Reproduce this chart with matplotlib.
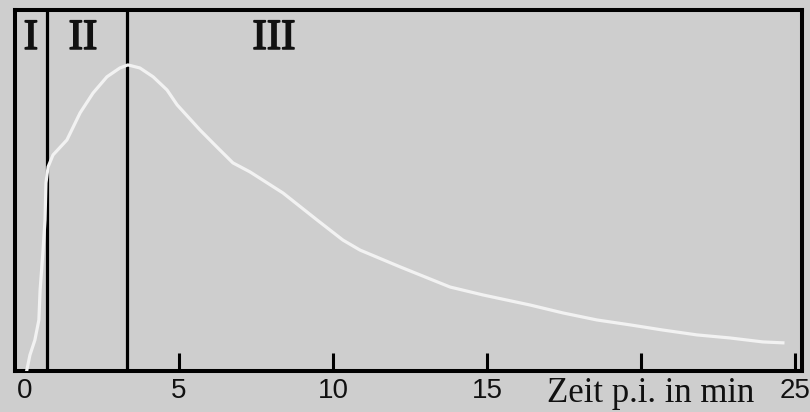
import matplotlib
matplotlib.use("Agg")
import matplotlib.pyplot as plt
import matplotlib.transforms as mtransforms
import matplotlib.patheffects as pe

# Data (time in min, relative signal)
time_min = [0.06, 0.16, 0.32, 0.45, 0.49, 0.58, 0.65, 0.68, 0.75, 0.91, 1.36, 1.79,
            2.21, 2.66, 3.08, 3.34, 3.73, 4.16, 4.61, 4.94, 5.68, 6.23, 6.75, 7.31,
            8.38, 9.48, 10.32, 10.88, 12.18, 13.80, 14.87, 16.40, 17.47, 18.57,
            19.64, 20.71, 21.82, 22.89, 23.96, 24.61]
signal = [0.0, 4.9, 9.8, 16.4, 26.2, 38.4, 49.2, 61.3, 66.6, 70.5, 75.4, 84.3,
          90.8, 96.1, 99.0, 100.0, 99.0, 96.1, 91.8, 86.9, 78.7, 73.1, 67.9, 64.9,
          58.0, 49.2, 42.6, 39.3, 33.8, 27.2, 24.6, 21.3, 18.7, 16.4,
          14.8, 13.1, 11.5, 10.5, 9.2, 8.9]
phase_bounds = [0.71, 3.31]
phase_labels = ["I", "II", "III"]
phase_label_x = [0.19, 1.88, 8.08]
tick_values = [0, 5, 10, 15, 20, 25]
tick_labels = ["0", "5", "10", "15", "", "25"]
xlabel_text = "Zeit p.i. in min"

bg = "#cecece"
fig = plt.figure(figsize=(8.10, 4.12), dpi=100, facecolor=bg)
ax = fig.add_axes([15/810, (412-371)/412, 787/810, 361/412])
ax.set_facecolor(bg)

ax.plot(time_min, signal, color="#f2f2f2", lw=2.3, zorder=4,
        solid_joinstyle="round")
for xb in phase_bounds:
    ax.axvline(xb, color="black", lw=2.3, zorder=3)

ax.set_xlim(-0.325, 25.23)
ax.set_ylim(-0.33, 118.0)

serif = ["Liberation Serif", "DejaVu Serif"]
for lab, lx in zip(phase_labels, phase_label_x):
    ax.text(lx, 108.6, lab, ha="center", va="center", fontsize=31,
            family=serif, fontweight="normal", color="#111111", zorder=5,
            path_effects=[pe.withStroke(linewidth=1.2, foreground="#111111")])

for sp in ax.spines.values():
    sp.set_linewidth(2.9)
    sp.set_color("black")

ax.set_yticks([])
ax.set_xticks(tick_values)
ax.set_xticklabels(tick_labels, fontsize=20, family=["Liberation Sans", "DejaVu Sans"],
                   color="#111111")
ax.tick_params(axis="x", direction="in", length=13, width=2.2, color="black", pad=5)
ax.xaxis.get_major_ticks()[0].tick1line.set_visible(False)
ax.get_xticklabels()[-1].set_horizontalalignment("center")

trans = mtransforms.blended_transform_factory(ax.transData, ax.transAxes)
ax.text(20.3, -0.018, xlabel_text, transform=trans, ha="center", va="top",
        fontsize=25, family=serif, color="#111111")

fig.savefig("out.png", dpi=100, facecolor=bg)
